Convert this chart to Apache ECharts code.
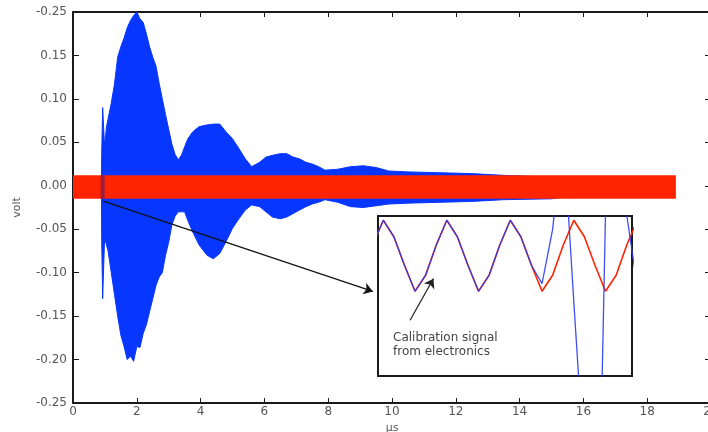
<!DOCTYPE html>
<html><head><meta charset="utf-8">
<script src="https://cdn.jsdelivr.net/npm/echarts@6/dist/echarts.min.js"></script>
<style>html,body{margin:0;padding:0;background:#fff}#c{width:708px;height:432px}</style>
</head><body><div id="c"></div>
<script>
// ---- main plot data (time in µs, amplitude in volt) ----
const yTickLabels = ['-0.25','-0.20','-0.15','-0.10','-0.05','0.00','0.05','0.10','0.15','-0.25'];
// received ultrasonic signal: envelope (local max / local min)
const blueT   = [0.89, 0.90, 0.93, 0.97, 0.99, 1.05, 1.10, 1.20, 1.30, 1.40, 1.50, 1.60, 1.70, 1.80, 1.90, 2.00, 2.10, 2.20, 2.30, 2.40, 2.50, 2.60, 2.70, 2.80, 2.90, 3.00, 3.10, 3.20, 3.30, 3.40, 3.50, 3.60, 3.75, 3.95, 4.20, 4.40, 4.60, 4.80, 5.00, 5.20, 5.40, 5.60, 5.85, 6.05, 6.25, 6.50, 6.70, 6.90, 7.10, 7.30, 7.50, 7.70, 7.90, 8.30, 8.70, 9.10, 9.50, 9.90, 10.5, 11.5, 12.5, 13.5, 15.0, 16.0];
const blueMax = [0.000, 0.037, 0.090, 0.090, 0.045, 0.068, 0.068, 0.095, 0.117, 0.148, 0.160, 0.170, 0.182, 0.190, 0.196, 0.200, 0.192, 0.188, 0.175, 0.160, 0.148, 0.138, 0.118, 0.100, 0.082, 0.065, 0.048, 0.036, 0.030, 0.035, 0.045, 0.054, 0.062, 0.068, 0.070, 0.071, 0.071, 0.062, 0.054, 0.043, 0.031, 0.022, 0.027, 0.033, 0.035, 0.037, 0.037, 0.033, 0.031, 0.027, 0.025, 0.022, 0.018, 0.019, 0.022, 0.023, 0.021, 0.017, 0.016, 0.015, 0.014, 0.012, 0.010, 0.008];
const blueMin = [0.000, -0.064, -0.130, -0.130, -0.060, -0.062, -0.075, -0.100, -0.125, -0.150, -0.172, -0.185, -0.200, -0.196, -0.202, -0.185, -0.186, -0.170, -0.160, -0.145, -0.130, -0.115, -0.105, -0.100, -0.080, -0.065, -0.045, -0.035, -0.030, -0.030, -0.030, -0.040, -0.053, -0.068, -0.080, -0.084, -0.078, -0.064, -0.049, -0.038, -0.028, -0.022, -0.024, -0.030, -0.036, -0.038, -0.036, -0.032, -0.028, -0.024, -0.021, -0.019, -0.016, -0.019, -0.024, -0.025, -0.023, -0.021, -0.020, -0.019, -0.018, -0.016, -0.015, -0.010];
// calibration signal from electronics (dense oscillation -> band)
const redT   = [0, 18.9];
const redMax = [0.012, 0.012];
const redMin = [-0.015, -0.015];
// arrow from the zoom location to the inset
const arrowFrom = [0.95, -0.0176];
const arrowTo   = [9.40, -0.1216];

// ---- inset data (sample index, mV) ----
const insetN    = [-1,0,1,2,3,4,5,6,7,8,9,10,11,12,13,14,15,16,17,18,19,20,21,22,23,24];
const insetRed  = [2.5,12,5.7,-5.1,-15,-8.9,2.5,12,5.7,-5.1,-15,-8.9,2.5,12,5.7,-5.1,-15,-8.9,2.5,12,5.7,-5.1,-15,-8.9,2.5,12];
const insetBlue = [2.5,12,5.7,-5.1,-15,-8.9,2.5,12,5.7,-5.1,-15,-8.9,2.5,12,5.7,-5.1,-12.1,8.5,46,-18.9,-81.8,-181,15,140,14,-13.2];
const insetArrowFrom = [2.53, -26];
const insetArrowTo   = [4.74, -10.2];
const insetText = ['Calibration signal', 'from electronics'];

const pairs = (xs, ys) => xs.map((x, i) => [x, ys[i]]);
const BLUE = '#0736ff', RED = '#ff2400', AX = '#1a1a1a', LBL = '#555';
const FONT = 'DejaVu Sans';

const chart = echarts.init(document.getElementById('c'), null, {renderer: 'canvas'});
const mainX = {min: 0, max: 20, interval: 2, splitLine: {show: false},
  axisLine: {onZero: false, lineStyle: {color: AX, width: 2}}, axisTick: {inside: true, length: 5, lineStyle: {color: AX}}};
const mainY = {min: -0.25, max: 0.20, interval: 0.05, splitLine: {show: false},
  axisLine: {onZero: false, lineStyle: {color: AX, width: 2}}, axisTick: {inside: true, length: 6, lineStyle: {color: AX}}};

chart.setOption({
  animation: false,
  textStyle: {fontFamily: FONT},
  grid: [
    {left: 73, top: 12, width: 638, height: 391, show: false, outerBoundsMode: 'none', containLabel: false},
    {left: 378, top: 216, width: 254, height: 160, show: true, backgroundColor: '#fff', borderColor: AX, borderWidth: 2, z: 5, outerBoundsMode: 'none', containLabel: false}
  ],
  xAxis: [
    Object.assign({}, mainX, {gridIndex: 0, position: 'bottom', name: 'μs', nameLocation: 'middle', nameGap: 18,
      nameTextStyle: {color: LBL, fontSize: 11, fontFamily: FONT},
      axisLabel: {color: LBL, fontSize: 12, margin: 3, fontFamily: FONT}}),
    Object.assign({}, mainX, {gridIndex: 0, position: 'top', axisLabel: {show: false}}),
    {gridIndex: 1, min: -0.5, max: 23.5, show: false, z: 6}
  ],
  yAxis: [
    Object.assign({}, mainY, {gridIndex: 0, position: 'left', name: 'volt', nameLocation: 'middle', nameGap: 50, nameRotate: 90,
      nameTextStyle: {color: LBL, fontSize: 11, fontFamily: FONT},
      axisLabel: {color: LBL, fontSize: 12, margin: 6, fontFamily: FONT,
        formatter: v => yTickLabels[Math.round((v + 0.25) / 0.05)]}}),
    Object.assign({}, mainY, {gridIndex: 0, position: 'right', axisLabel: {show: false}}),
    {gridIndex: 1, min: -47.2, max: 13.6, show: false, z: 6}
  ],
  series: [
    {type: 'line', name: 'signal max', xAxisIndex: 0, yAxisIndex: 0, data: pairs(blueT, blueMax), showSymbol: false, silent: true,
      lineStyle: {color: BLUE, width: 1}, areaStyle: {color: BLUE, opacity: 1, origin: 'auto'}, z: 2},
    {type: 'line', name: 'signal min', xAxisIndex: 0, yAxisIndex: 0, data: pairs(blueT, blueMin), showSymbol: false, silent: true,
      lineStyle: {color: BLUE, width: 1}, areaStyle: {color: BLUE, opacity: 1, origin: 'auto'}, z: 2},
    // calibration band: area from the lower bound up to the upper bound
    {type: 'line', name: 'cal band', xAxisIndex: 0, yAxisIndex: 0, data: pairs(redT, redMin), showSymbol: false, silent: true,
      lineStyle: {color: RED, width: 0}, areaStyle: {color: RED, opacity: 1, origin: redMax[0]}, z: 3,
      markLine: {silent: true, symbol: ['none', 'arrow'], symbolSize: 9, label: {show: false},
        lineStyle: {color: '#111', width: 1.2, type: 'solid'},
        data: [[{coord: arrowFrom}, {coord: arrowTo}]]}},
    // start spike of the signal, seen through the calibration band
    {type: 'line', name: 'spike', xAxisIndex: 0, yAxisIndex: 0, data: [[blueT[2], redMax[0]], [blueT[2], redMin[0]]],
      showSymbol: false, silent: true, lineStyle: {color: '#1a1a8a', width: 4, opacity: 0.45}, z: 4},
    // inset
    {type: 'line', name: 'inset cal', xAxisIndex: 2, yAxisIndex: 2, data: pairs(insetN, insetRed), showSymbol: false, silent: true,
      lineStyle: {color: RED, width: 1.6}, z: 7},
    {type: 'line', name: 'inset signal', xAxisIndex: 2, yAxisIndex: 2, data: pairs(insetN, insetBlue), showSymbol: false, silent: true,
      lineStyle: {color: '#2a3cf0', width: 1.3, opacity: 0.9}, z: 8,
      markLine: {silent: true, symbol: ['none', 'arrow'], symbolSize: 9, label: {show: false},
        lineStyle: {color: '#222', width: 1.2, type: 'solid'},
        data: [[{coord: insetArrowFrom}, {coord: insetArrowTo}]]}}
  ],
  graphic: [
    {type: 'text', left: 393, top: 332, z: 20, style: {text: insetText[0], fill: '#444', font: '12px "DejaVu Sans"'}},
    {type: 'text', left: 393, top: 346, z: 20, style: {text: insetText[1], fill: '#444', font: '12px "DejaVu Sans"'}}
  ]
});
</script></body></html>
